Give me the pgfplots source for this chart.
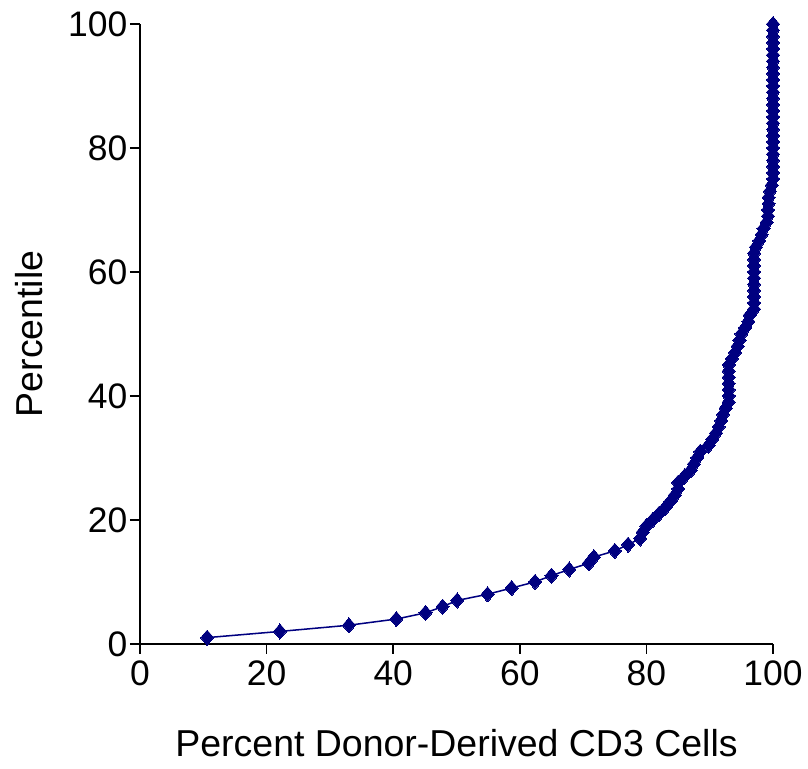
\documentclass[border={12pt 8pt 2pt 8pt}]{standalone}
\usepackage{pgfplots}
\pgfplotsset{compat=1.18}
\usepackage{fontspec}
\setmainfont{Liberation Sans}
\definecolor{navy}{RGB}{0,0,128}
\begin{document}
\begin{tikzpicture}
\begin{axis}[
    width=625pt, height=612pt,
    scale only axis,
    xmin=0, xmax=100, ymin=0, ymax=100,
    axis x line=bottom, axis y line=left,
    axis line style={-, line width=1.6pt},
    xtick={0,20,...,100}, ytick={0,20,...,100},
    tick align=outside, major tick length=10pt,
    tick style={line width=1.6pt, black},
    tick label style={font=\fontsize{35}{38}\selectfont},
    xticklabel style={yshift=-3pt},
    yticklabel style={xshift=1pt},
    /pgf/number format/assume math mode=true,
    xlabel={Percent Donor-Derived CD3 Cells},
    ylabel={Percentile},
    label style={font=\fontsize{37}{40}\selectfont},
    xlabel style={yshift=-36pt},
    ylabel style={yshift=18pt},
    clip=false,
]
\addplot[color=navy, line width=1.5pt, mark=diamond*, mark size=7.5pt,
    mark options={fill=navy, draw=navy, line width=0pt, xscale=1.15}] coordinates {
(10.6,1) (22.1,2) (33,3) (40.5,4) (45.1,5) (47.8,6) (50.1,7) (54.9,8) (58.7,9) (62.4,10)
(65,11) (67.8,12) (70.9,13) (71.7,14) (75,15) (77.1,16) (79,17) (79.4,18) (80,19) (81,20)
(82,21) (83,22) (83.8,23) (84.5,24) (85,25) (85,26) (86,27) (87,28) (87.5,29) (88,30)
(88.5,31) (89.8,32) (90.4,33) (91,34) (91.4,35) (91.8,36) (92.1,37) (92.5,38) (93,39) (93,40)
(93,41) (93,42) (93,43) (93,44) (93,45) (93.5,46) (94,47) (94.4,48) (94.7,49) (95,50)
(95.6,51) (96.1,52) (96.3,53) (97,54) (97,55) (97,56) (97,57) (97,58) (97,59) (97,60)
(97,61) (97,62) (97,63) (97.3,64) (97.8,65) (98.2,66) (98.5,67) (99,68) (99.2,69) (99.2,70)
(99.3,71) (99.3,72) (99.5,73) (99.8,74) (100,75) (100,76) (100,77) (100,78) (100,79) (100,80)
(100,81) (100,82) (100,83) (100,84) (100,85) (100,86) (100,87) (100,88) (100,89) (100,90)
(100,91) (100,92) (100,93) (100,94) (100,95) (100,96) (100,97) (100,98) (100,99) (100,100)
};
\end{axis}
\end{tikzpicture}
\end{document}
